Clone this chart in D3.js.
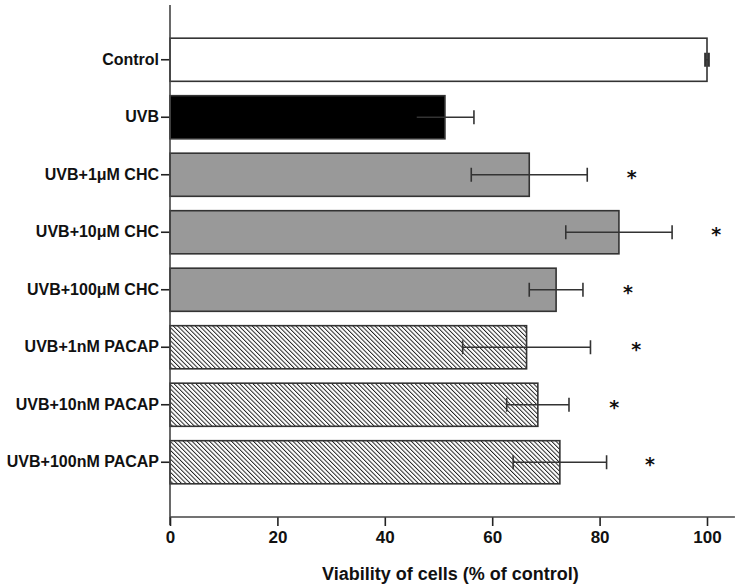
<!DOCTYPE html>
<html><head><meta charset="utf-8">
<script src="https://cdn.jsdelivr.net/npm/d3@7"></script>
<style>body{margin:0;background:#fff}svg{display:block}text{font-family:"Liberation Sans",Arial,sans-serif;font-weight:bold;fill:#111}</style>
</head><body><svg id="c" width="741" height="586"></svg>
<script>
const categories = ["Control","UVB","UVB+1\u03bcM CHC","UVB+10\u03bcM CHC","UVB+100\u03bcM CHC","UVB+1nM PACAP","UVB+10nM PACAP","UVB+100nM PACAP"];
const values = [100, 51.2, 66.9, 83.6, 71.9, 66.4, 68.5, 72.6];
const errors = [0.3, 5.4, 10.8, 9.9, 5.0, 11.9, 5.8, 8.7];
const fillTypes = ["white","black","gray","gray","gray","hatch","hatch","hatch"];
const sigStars = [null, null, 86.0, 101.7, 85.3, 86.8, 82.7, 89.4];
const xTicks = [0,20,40,60,80,100];
const xTitle = "Viability of cells (% of control)";

const svg = d3.select("#c");
const defs = svg.append("defs");
const hp = 3.1;
const pat = defs.append("pattern").attr("id","hatch").attr("patternUnits","userSpaceOnUse")
  .attr("width",hp).attr("height",hp).attr("patternTransform","rotate(-45)");
pat.append("rect").attr("width",hp).attr("height",hp).attr("fill","#fff");
pat.append("line").attr("x1",0).attr("y1",0).attr("x2",0).attr("y2",hp).attr("stroke","#1e1e1e").attr("stroke-width",1.9);

const x = d3.scaleLinear().domain([0,100]).range([170,707]);
const y = d3.scaleBand().domain(categories).range([31,491]).paddingInner(0.25).paddingOuter(0.125);
const axisY = 517;

const fillOf = t => t==="white"?"#fff":t==="black"?"#000":t==="gray"?"#999":"url(#hatch)";

const g = svg.append("g");
g.selectAll("rect.bar").data(categories).join("rect").attr("class","bar")
  .attr("x",x(0)).attr("y",d=>y(d)).attr("width",(d,i)=>x(values[i])-x(0)).attr("height",y.bandwidth())
  .attr("fill",(d,i)=>fillOf(fillTypes[i])).attr("stroke","#333").attr("stroke-width",1.6);

// error bars
const eg = g.selectAll("g.err").data(categories).join("g").attr("class","err");
eg.append("line").attr("x1",(d,i)=>x(values[i]-errors[i])).attr("x2",(d,i)=>x(values[i]+errors[i]))
  .attr("y1",d=>y(d)+y.bandwidth()/2).attr("y2",d=>y(d)+y.bandwidth()/2)
  .attr("stroke","#333").attr("stroke-width",1.3);
eg.append("line").attr("x1",(d,i)=>x(values[i]+errors[i])).attr("x2",(d,i)=>x(values[i]+errors[i]))
  .attr("y1",d=>y(d)+y.bandwidth()/2-7).attr("y2",d=>y(d)+y.bandwidth()/2+7)
  .attr("stroke","#333").attr("stroke-width",(d,i)=>i===0?2.5:1.6);
eg.append("line").attr("x1",(d,i)=>x(values[i]-errors[i])).attr("x2",(d,i)=>x(values[i]-errors[i]))
  .attr("y1",d=>y(d)+y.bandwidth()/2-7).attr("y2",d=>y(d)+y.bandwidth()/2+7)
  .attr("stroke",(d,i)=>fillTypes[i]==="black"?"#000":"#333").attr("stroke-width",(d,i)=>i===0?2.5:1.6);

// stars
g.selectAll("text.star").data(categories.map((c,i)=>({c,v:sigStars[i]})).filter(d=>d.v!==null)).join("text")
  .attr("class","star").attr("x",d=>x(d.v)).attr("y",d=>y(d.c)+y.bandwidth()/2+9)
  .attr("text-anchor","middle").style("font-family","'DejaVu Sans',sans-serif").style("font-weight","bold")
  .style("font-size","19px").text("*");

// y axis
const yAx = svg.append("g").attr("transform",`translate(${x(0)},0)`)
  .call(d3.axisLeft(y).tickSize(9).tickSizeOuter(0).tickPadding(2));
yAx.select(".domain").remove();
yAx.selectAll(".tick line").attr("stroke","#222").attr("stroke-width",1.6);
yAx.selectAll(".tick text").style("font-size","16px").attr("fill","#111");
svg.append("line").attr("x1",x(0)).attr("x2",x(0)).attr("y1",5).attr("y2",axisY+8).attr("stroke","#444").attr("stroke-width",1.6);

// x axis
const xAx = svg.append("g").attr("transform",`translate(0,${axisY})`)
  .call(d3.axisBottom(x).tickValues(xTicks).tickSize(9).tickPadding(5).tickFormat(d3.format("d")));
xAx.select(".domain").remove();
xAx.selectAll(".tick line").attr("stroke","#222").attr("stroke-width",1.6);
xAx.selectAll(".tick text").style("font-size","17px").attr("fill","#111");
svg.append("line").attr("x1",x(0)).attr("x2",x(105.2)).attr("y1",axisY).attr("y2",axisY).attr("stroke","#444").attr("stroke-width",1.6);

svg.append("text").attr("x",(x(0)+x(105.2))/2-2).attr("y",580).attr("text-anchor","middle")
  .style("font-size","18px").text(xTitle);
</script></body></html>
